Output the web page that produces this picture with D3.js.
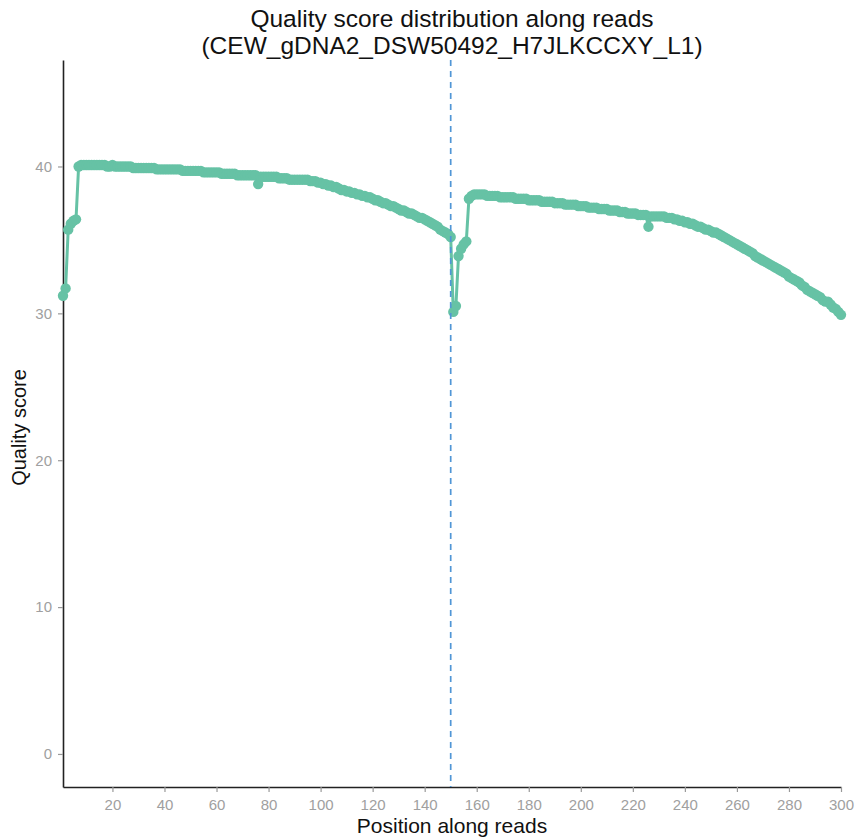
<!DOCTYPE html>
<html>
<head>
<meta charset="utf-8">
<script src="https://cdn.jsdelivr.net/npm/d3@7"></script>
<style>
  body { margin: 0; background: #fff; }
  svg { font-family: "Liberation Sans", Arial, sans-serif; }
</style>
</head>
<body>
<div id="chart"></div>
<script>
// title lines
const titleLines = ['Quality score distribution along reads', '(CEW_gDNA2_DSW50492_H7JLKCCXY_L1)'];

// mean quality per position, read 1 (1-150) and read 2 (151-300)
const read1Scores = [
  31.2, 31.7, 35.7, 36.1, 36.3, 36.4, 40.0, 40.1, 40.1, 40.1,
  40.1, 40.1, 40.1, 40.1, 40.1, 40.1, 40.1, 40.0, 40.0, 40.1,
  40.0, 40.0, 40.0, 40.0, 40.0, 40.0, 40.0, 39.9, 39.9, 39.9,
  39.9, 39.9, 39.9, 39.9, 39.9, 39.9, 39.8, 39.8, 39.8, 39.8,
  39.8, 39.8, 39.8, 39.8, 39.8, 39.8, 39.7, 39.7, 39.7, 39.7,
  39.7, 39.7, 39.7, 39.7, 39.6, 39.6, 39.6, 39.6, 39.6, 39.6,
  39.6, 39.5, 39.5, 39.5, 39.5, 39.5, 39.5, 39.4, 39.4, 39.4,
  39.4, 39.4, 39.4, 39.4, 39.4, 38.8, 39.3, 39.3, 39.3, 39.3,
  39.3, 39.3, 39.3, 39.2, 39.2, 39.2, 39.2, 39.1, 39.1, 39.1,
  39.1, 39.1, 39.1, 39.1, 39.1, 39.0, 39.0, 39.0, 38.9, 38.9,
  38.8, 38.8, 38.7, 38.7, 38.6, 38.6, 38.5, 38.4, 38.4, 38.3,
  38.3, 38.2, 38.2, 38.1, 38.1, 38.0, 38.0, 37.9, 37.9, 37.8,
  37.7, 37.7, 37.6, 37.5, 37.5, 37.4, 37.3, 37.3, 37.2, 37.1,
  37.0, 37.0, 36.9, 36.8, 36.8, 36.7, 36.6, 36.5, 36.5, 36.4,
  36.3, 36.2, 36.1, 36.0, 35.9, 35.7, 35.6, 35.5, 35.4, 35.2
];
const read2Scores = [
  30.1, 30.5, 33.9, 34.4, 34.7, 34.9, 37.8, 38.0, 38.1, 38.1,
  38.1, 38.1, 38.1, 38.0, 38.0, 38.0, 38.0, 38.0, 37.9, 37.9,
  37.9, 37.9, 37.9, 37.9, 37.8, 37.8, 37.8, 37.8, 37.8, 37.7,
  37.7, 37.7, 37.7, 37.7, 37.6, 37.6, 37.6, 37.6, 37.6, 37.5,
  37.5, 37.5, 37.5, 37.4, 37.4, 37.4, 37.4, 37.4, 37.3, 37.3,
  37.3, 37.3, 37.2, 37.2, 37.2, 37.2, 37.1, 37.1, 37.1, 37.1,
  37.0, 37.0, 37.0, 37.0, 36.9, 36.9, 36.9, 36.8, 36.8, 36.8,
  36.8, 36.7, 36.7, 36.7, 36.7, 35.9, 36.6, 36.6, 36.6, 36.6,
  36.6, 36.6, 36.5, 36.5, 36.5, 36.4, 36.4, 36.3, 36.3, 36.2,
  36.2, 36.1, 36.1, 36.0, 35.9, 35.9, 35.8, 35.7, 35.7, 35.6,
  35.5, 35.5, 35.4, 35.3, 35.2, 35.1, 35.0, 34.9, 34.8, 34.7,
  34.6, 34.5, 34.4, 34.3, 34.2, 34.1, 33.9, 33.8, 33.7, 33.6,
  33.5, 33.4, 33.3, 33.2, 33.1, 33.0, 32.9, 32.8, 32.7, 32.5,
  32.4, 32.3, 32.2, 32.1, 31.9, 31.8, 31.6, 31.5, 31.4, 31.3,
  31.2, 31.1, 30.9, 30.8, 30.8, 30.6, 30.4, 30.3, 30.1, 29.9
];
const readSplit = 150;
const xTicks = [20, 40, 60, 80, 100, 120, 140, 160, 180, 200, 220, 240, 260, 280, 300];
const yTicks = [0, 10, 20, 30, 40];

const width = 855;
const height = 840;
const margin = { top: 60, right: 14, bottom: 53, left: 63 };

const scores = read1Scores.concat(read2Scores);
const data = scores.map((v, i) => ({ pos: i + 1, q: v }));

const svg = d3.select('#chart')
  .append('svg')
  .attr('width', width)
  .attr('height', height);

const x = d3.scaleLinear()
  .domain([1, 300])
  .range([margin.left, width - margin.right]);

// ylim 0..45 plus ggplot-style 5% padding
const y = d3.scaleLinear()
  .domain([-2.25, 47.25])
  .range([height - margin.bottom, margin.top]);

// title
svg.append('g')
  .selectAll('text')
  .data(titleLines)
  .enter()
  .append('text')
  .attr('x', (margin.left + width - margin.right) / 2)
  .attr('y', (d, i) => 27 + i * 27)
  .attr('text-anchor', 'middle')
  .style('font-size', '24.5px')
  .style('fill', '#111')
  .text(d => d);

// axes
const xAxis = svg.append('g')
  .attr('transform', `translate(0, ${height - margin.bottom})`)
  .call(d3.axisBottom(x).tickValues(xTicks).tickSize(5).tickPadding(7).tickSizeOuter(0));

const yAxis = svg.append('g')
  .attr('transform', `translate(${margin.left}, 0)`)
  .call(d3.axisLeft(y).tickValues(yTicks).tickSize(5).tickPadding(6).tickSizeOuter(0));

[xAxis, yAxis].forEach(g => {
  g.select('.domain').attr('stroke', '#222').attr('stroke-width', 1.6);
  g.selectAll('.tick line').attr('stroke', '#999').attr('stroke-width', 1.2);
  g.selectAll('.tick text')
    .style('font-size', '15px')
    .style('font-family', '"Liberation Sans", Arial, sans-serif')
    .attr('fill', '#a0a0a0');
});

// axis titles
svg.append('text')
  .attr('x', (margin.left + width - margin.right) / 2)
  .attr('y', 833)
  .attr('text-anchor', 'middle')
  .style('font-size', '21px')
  .style('fill', '#111')
  .text('Position along reads');

svg.append('text')
  .attr('transform', `translate(26, ${(margin.top + height - margin.bottom) / 2 + 4}) rotate(-90)`)
  .attr('text-anchor', 'middle')
  .style('font-size', '20px')
  .style('fill', '#111')
  .text('Quality score');

// line + points
const line = d3.line()
  .x(d => x(d.pos))
  .y(d => y(d.q));

svg.append('path')
  .datum(data)
  .attr('d', line)
  .attr('fill', 'none')
  .attr('stroke', '#66c2a5')
  .attr('stroke-width', 3);

svg.append('g')
  .selectAll('circle')
  .data(data)
  .enter()
  .append('circle')
  .attr('cx', d => x(d.pos))
  .attr('cy', d => y(d.q))
  .attr('r', 5.2)
  .attr('fill', '#66c2a5');

// read boundary
svg.append('line')
  .attr('x1', x(readSplit))
  .attr('x2', x(readSplit))
  .attr('y1', margin.top)
  .attr('y2', height - margin.bottom)
  .attr('stroke', '#5096d6')
  .attr('stroke-width', 1.7)
  .attr('stroke-dasharray', '6,5');
</script>
</body>
</html>
